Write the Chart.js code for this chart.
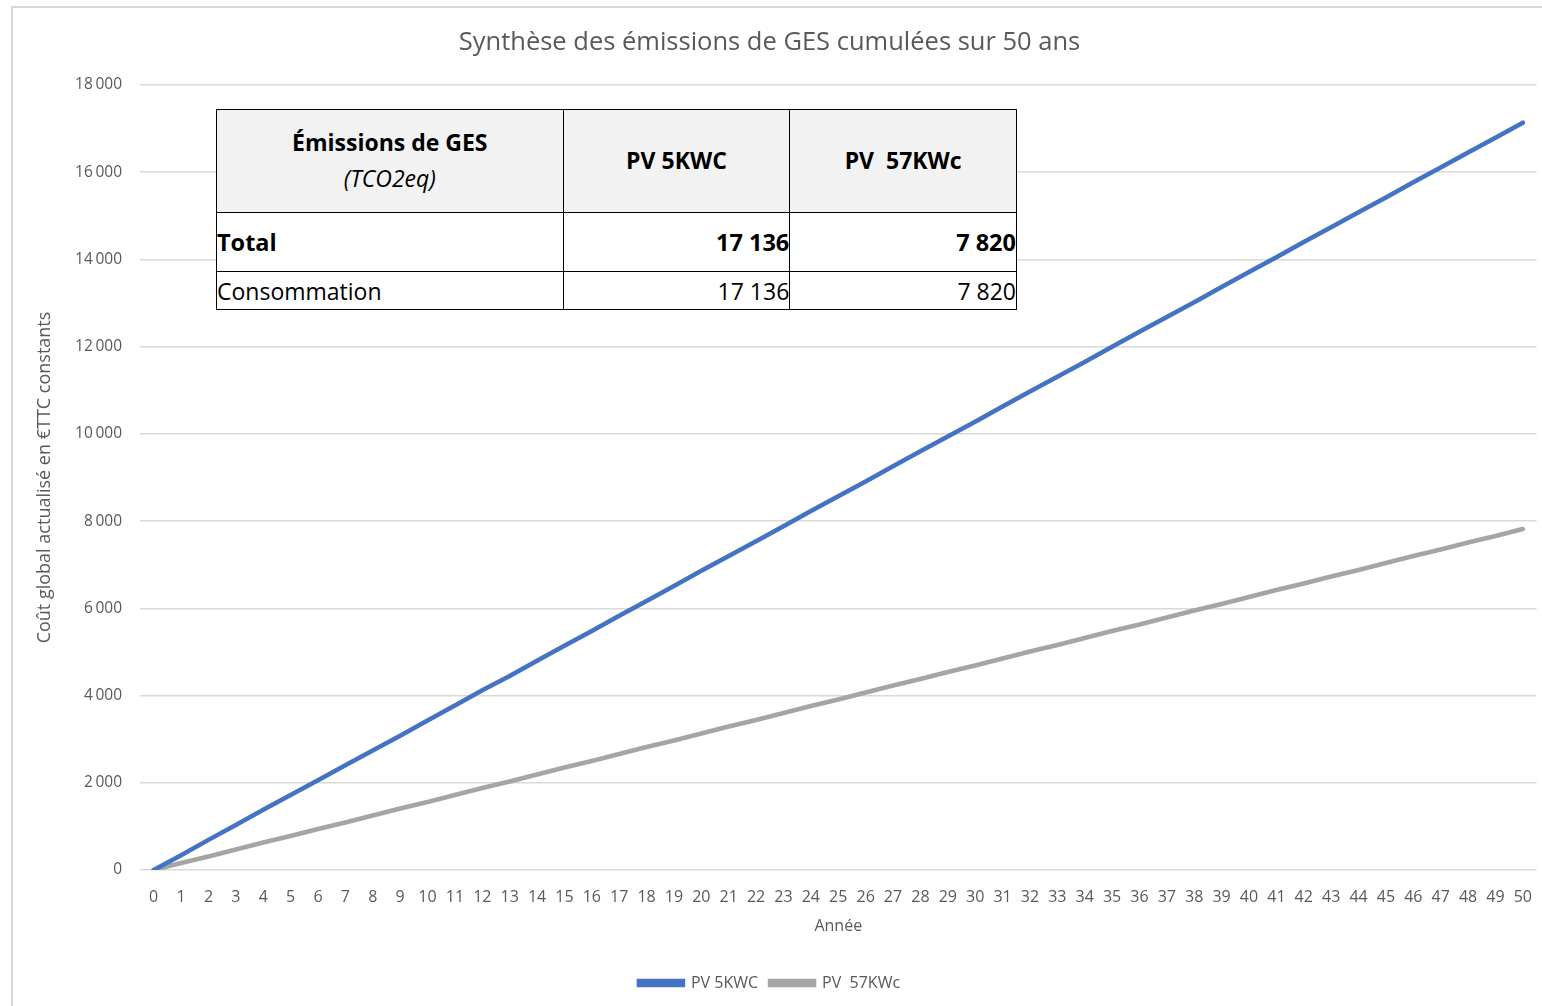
<!DOCTYPE html>
<html>
<head>
<meta charset="utf-8">
<script src="https://cdn.jsdelivr.net/npm/chart.js@4.4.0/dist/chart.umd.min.js"></script>
<style>
  html, body { margin: 0; padding: 0; background: #fff; }
  body { width: 1542px; height: 1006px; position: relative; overflow: hidden; font-family: "Open Sans", sans-serif; }
  .frame { position: absolute; left: 11px; top: 6px; width: 1540px; height: 1010px; border: 2px solid #d9d9d9; box-sizing: border-box; pointer-events: none; }
  .wrap { position: absolute; left: 0; top: 0; width: 1542px; height: 1006px; }
  table.ges { position: absolute; left: 216px; top: 109px; width: 801px; border-collapse: collapse; font-family: "Open Sans", sans-serif; color: #000; background: #fff; }
  table.ges td { border: 1.5px solid #000; padding: 0; font-size: 23px; vertical-align: middle; }
  table.ges tr.head td { background: #f2f2f2; height: 102px; text-align: center; font-weight: bold; line-height: 1.55; }
  table.ges tr.head td .unit { font-weight: normal; font-style: italic; }
  table.ges tr.total td { height: 58px; font-weight: bold; font-size: 23.5px; }
  table.ges tr.conso td { height: 37px; }
  table.ges td.num { text-align: right; }
</style>
</head>
<body>
<div class="wrap"><canvas id="chart" width="1542" height="1006"></canvas></div>
<div class="frame"></div>
<table class="ges" id="ges">
  <colgroup><col style="width:347px"><col style="width:227px"><col style="width:227px"></colgroup>
</table>
<script>
// years 0..50
const years = ['0','1','2','3','4','5','6','7','8','9','10','11','12','13','14','15','16','17','18','19','20',
  '21','22','23','24','25','26','27','28','29','30','31','32','33','34','35','36','37','38','39','40',
  '41','42','43','44','45','46','47','48','49','50'];

// PV 5KWC, cumulative emissions
const pv5kwc = [0, 340, 690, 1030, 1380, 1720, 2060, 2400, 2740, 3080, 3430, 3770, 4120, 4450, 4800, 5140,
  5480, 5830, 6170, 6510, 6860, 7200, 7540, 7880, 8230, 8570, 8910, 9260, 9600, 9940, 10280, 10630, 10970,
  11310, 11650, 12000, 12340, 12680, 13020, 13370, 13710, 14050, 14400, 14740, 15080, 15420, 15770, 16110,
  16450, 16790, 17136];

// PV 57KWc, grey line
const pv57kwc = [0, 160, 310, 470, 630, 780, 940, 1090, 1250, 1410, 1560, 1720, 1880, 2030, 2190, 2350,
  2500, 2660, 2820, 2970, 3130, 3290, 3440, 3600, 3760, 3910, 4070, 4230, 4380, 4540, 4690, 4850, 5010,
  5160, 5320, 5480, 5630, 5790, 5950, 6100, 6260, 6420, 6570, 6730, 6880, 7040, 7200, 7350, 7510, 7660, 7820];

// summary table
const tableCols = ['PV 5KWC', 'PV\u00a0 57KWc'];
const tableTotal = ['17 136', '7 820'];
const tableConso = ['17 136', '7 820'];

const grey = '#595959';
const fmt = v => String(v).replace(/\B(?=(\d{3})+(?!\d))/g, '\u2009');

// build the table
const tbl = document.getElementById('ges');
tbl.insertAdjacentHTML('beforeend',
  '<tr class="head"><td>Émissions de GES<br><span class="unit">(TCO2eq)</span></td>' +
  tableCols.map(c => '<td>' + c + '</td>').join('') + '</tr>' +
  '<tr class="total"><td>Total</td>' + tableTotal.map(v => '<td class="num">' + v + '</td>').join('') + '</tr>' +
  '<tr class="conso"><td>Consommation</td>' + tableConso.map(v => '<td class="num">' + v + '</td>').join('') + '</tr>');

new Chart(document.getElementById('chart'), {
  type: 'line',
  data: {
    labels: years,
    datasets: [
      { label: 'PV 5KWC', data: pv5kwc, borderColor: '#4472c4', backgroundColor: '#4472c4',
        borderWidth: 4.5, pointRadius: 0, tension: 0, borderCapStyle: 'round' },
      { label: 'PV  57KWc', data: pv57kwc, borderColor: '#a5a5a5', backgroundColor: '#a5a5a5',
        borderWidth: 4.5, pointRadius: 0, tension: 0, borderCapStyle: 'round' }
    ]
  },
  options: {
    responsive: false,
    animation: false,
    layout: { padding: { left: 0, right: 3, top: 0, bottom: 5 } },
    plugins: {
      title: {
        display: true,
        text: 'Synthèse des émissions de GES cumulées sur 50 ans',
        color: grey,
        font: { family: 'Open Sans', size: 25.5, weight: 'normal' },
        padding: { top: 27.7, bottom: 26.7 }
      },
      legend: {
        position: 'bottom',
        labels: {
          color: grey,
          font: { family: 'Open Sans', size: 16 },
          boxWidth: 44,
          boxHeight: 4,
          padding: 12
        }
      },
      tooltip: { enabled: false }
    },
    scales: {
      x: {
        offset: true,
        grid: { display: false },
        border: { display: false },
        ticks: { color: grey, font: { family: 'Open Sans', size: 16 }, padding: 10, maxRotation: 0, autoSkip: false },
        title: { display: true, text: 'Année', color: grey, font: { family: 'Open Sans', size: 16 }, padding: { top: 0, bottom: 27 } },
        afterFit: s => { s.height = 93; }
      },
      y: {
        min: 0,
        max: 18000,
        grid: { color: '#d9d9d9', lineWidth: 1.5, drawTicks: false },
        border: { display: false },
        ticks: { stepSize: 2000, color: grey, font: { family: 'Open Sans', size: 15.5 }, padding: 18, callback: v => fmt(v) },
        title: { display: true, text: 'Coût global actualisé en €TTC constants', color: grey,
          font: { family: 'Open Sans', size: 18 }, padding: { top: 34, bottom: 0 } },
        afterFit: s => { s.width = 140; }
      }
    }
  }
});
</script>
</body>
</html>
